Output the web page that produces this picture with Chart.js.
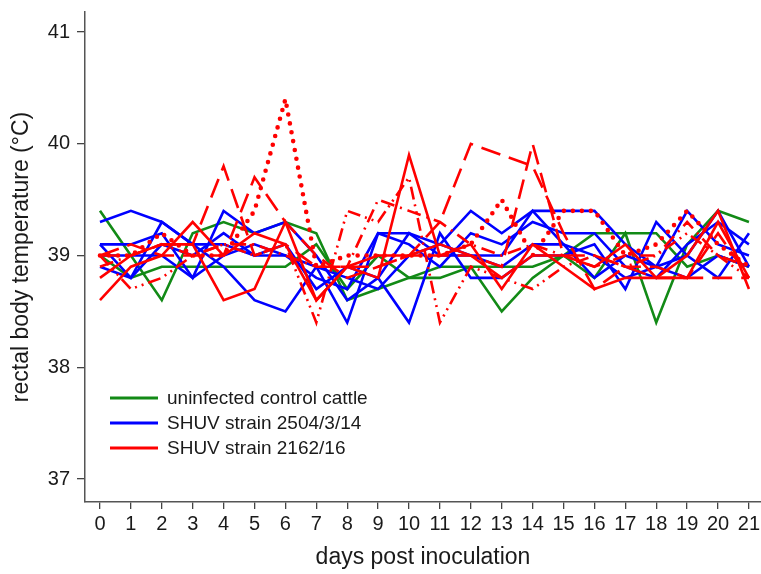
<!DOCTYPE html>
<html>
<head>
<meta charset="utf-8">
<script src="https://cdn.jsdelivr.net/npm/chart.js@4.4.1/dist/chart.umd.min.js"></script>
<style>
  html, body { margin: 0; padding: 0; background: #fff; }
  #wrap { width: 761px; height: 574px; }
</style>
</head>
<body>
<div id="wrap"><canvas id="tempChart"></canvas></div>
<script>
const days = [0, 1, 2, 3, 4, 5, 6, 7, 8, 9, 10, 11, 12, 13, 14, 15, 16, 17, 18, 19, 20, 21];
const yTicks = [37, 38, 39, 40, 41];

// uninfected control cattle
const control1 = [39.4, 39.0, 38.6, 39.2, 39.3, 39.2, 39.3, 39.2, 38.6, 38.7, 38.8, 38.8, 38.9, 38.5, 38.8, 39.0, 38.8, 39.2, 38.4, 39.1, 39.4, 39.3];
const control2 = [39.0, 38.8, 38.9, 38.9, 38.9, 38.9, 38.9, 39.1, 38.7, 39.0, 38.8, 38.9, 38.9, 38.9, 38.9, 39.0, 39.2, 39.2, 39.2, 38.9, 39.0, 38.9];

// SHUV strain 2504/3/14
const s2504a = [39.3, 39.4, 39.3, 39.1, 38.9, 38.6, 38.5, 38.9, 38.4, 39.2, 39.2, 39.1, 39.4, 39.2, 39.4, 39.4, 39.4, 39.1, 38.9, 39.4, 39.1, 39.0];
const s2504b = [39.1, 39.1, 39.2, 38.8, 39.4, 39.2, 39.3, 39.0, 38.6, 38.8, 38.4, 39.2, 38.8, 38.8, 39.0, 39.0, 39.1, 38.7, 39.3, 39.0, 38.8, 39.2];
const s2504c = [38.9, 38.8, 39.1, 39.0, 39.2, 39.0, 39.0, 38.8, 38.7, 39.2, 39.1, 38.9, 39.2, 39.1, 39.3, 39.2, 39.2, 38.9, 38.8, 39.1, 39.3, 39.1];
const s2504d = [39.1, 38.8, 39.3, 39.1, 39.1, 39.0, 39.1, 38.7, 38.9, 38.8, 39.2, 39.0, 39.0, 38.9, 39.1, 39.1, 38.8, 39.0, 38.9, 38.8, 39.0, 38.9];
const s2504e = [39.0, 39.0, 39.0, 38.8, 39.0, 39.1, 39.0, 38.9, 38.8, 38.7, 39.0, 39.1, 39.0, 39.0, 39.4, 39.1, 39.0, 38.8, 38.9, 39.0, 39.4, 38.9];

// SHUV strain 2162/16
const s2162a = [38.6, 38.9, 39.0, 39.3, 39.0, 39.2, 39.1, 38.6, 38.9, 38.8, 39.9, 39.0, 39.1, 38.7, 39.1, 38.9, 38.7, 38.8, 38.8, 39.0, 39.4, 38.7];
const s2162b = [38.8, 39.0, 39.1, 39.1, 38.6, 38.7, 39.3, 38.6, 38.9, 39.0, 39.0, 39.1, 39.0, 38.8, 39.0, 39.0, 38.9, 39.1, 38.8, 38.8, 39.3, 38.8];
const s2162c = [39.0, 39.0, 39.1, 39.1, 39.8, 39.0, 39.1, 38.9, 38.9, 38.9, 39.0, 39.3, 40.0, 39.9, 39.8, 39.2, 38.7, 38.9, 38.8, 38.8, 38.8, 38.8];
const s2162d = [39.0, 39.1, 39.0, 39.0, 39.0, 39.7, 39.3, 39.0, 38.8, 38.9, 39.0, 39.0, 39.0, 38.9, 40.0, 39.0, 39.0, 38.9, 38.9, 38.8, 39.2, 38.8];
const s2162e = [39.0, 39.0, 39.2, 39.0, 39.0, 39.4, 40.4, 38.9, 39.0, 39.0, 39.0, 39.0, 39.1, 39.5, 39.0, 39.4, 39.4, 39.0, 39.1, 39.4, 39.1, 38.9];
const s2162f = [38.9, 39.0, 39.1, 39.0, 39.1, 39.1, 39.0, 38.9, 38.9, 39.5, 39.4, 39.3, 39.1, 39.0, 39.1, 39.0, 38.9, 39.0, 39.0, 39.3, 39.0, 38.9];
const s2162g = [39.0, 38.7, 38.8, 39.0, 39.1, 39.0, 39.1, 38.4, 39.4, 39.3, 39.7, 38.4, 38.9, 38.8, 38.7, 38.9, 39.0, 38.9, 39.0, 39.2, 39.0, 38.8];

const GREEN = '#128a16';
const BLUE = '#0000ff';
const RED = '#ff0000';

function line(data, color, dash, width) {
  return {
    data: data,
    borderColor: color,
    backgroundColor: color,
    borderWidth: width || 2.6,
    borderDash: dash || [],
    borderCapStyle: dash && dash[0] === 0 ? 'round' : 'butt',
    pointRadius: 0,
    tension: 0,
    fill: false
  };
}

// red drawn on top (dataset 0 is painted last)
const datasets = [
  line(s2162a, RED),
  line(s2162b, RED),
  line(s2162c, RED, [20, 9]),
  line(s2162d, RED, [20, 9]),
  line(s2162e, RED, [0, 9], 4.6),
  line(s2162f, RED, [14, 6, 2, 6]),
  line(s2162g, RED, [13, 5, 2, 5, 2, 5]),
  line(s2504a, BLUE),
  line(s2504b, BLUE),
  line(s2504c, BLUE),
  line(s2504d, BLUE),
  line(s2504e, BLUE),
  line(control1, GREEN),
  line(control2, GREEN)
];

const legendItems = [
  { text: 'uninfected control cattle', color: GREEN },
  { text: 'SHUV strain 2504/3/14', color: BLUE },
  { text: 'SHUV strain 2162/16', color: RED }
];

const insideLegend = {
  id: 'insideLegend',
  afterDraw(chart) {
    const c = chart.ctx;
    c.save();
    c.font = '19px "Liberation Sans", Arial, sans-serif';
    c.textBaseline = 'middle';
    legendItems.forEach((it, i) => {
      const y = 398 + i * 25;
      c.strokeStyle = it.color;
      c.lineWidth = 2.8;
      c.beginPath();
      c.moveTo(110, y);
      c.lineTo(158, y);
      c.stroke();
      c.fillStyle = '#1a1a1a';
      c.fillText(it.text, 167, y + 1);
    });
    c.restore();
  }
};

new Chart(document.getElementById('tempChart'), {
  type: 'line',
  data: { labels: days, datasets: datasets },
  plugins: [insideLegend],
  options: {
    responsive: true,
    maintainAspectRatio: false,
    animation: false,
    layout: { padding: { top: 12, right: 0, left: 0, bottom: 0 } },
    plugins: { legend: { display: false }, tooltip: { enabled: false } },
    scales: {
      x: {
        type: 'linear',
        min: -0.485,
        max: 21.39,
        afterBuildTicks: scale => { scale.ticks = days.map(v => ({ value: v })); },
        afterFit: scale => { scale.height = 72; scale.paddingLeft = 0; scale.paddingRight = 0; },
        grid: { drawOnChartArea: false, drawTicks: true, tickLength: 7, color: '#444', lineWidth: 1.3 },
        border: { display: true, color: '#555', width: 1.5 },
        ticks: { autoSkip: false, maxRotation: 0, padding: 3, color: '#1a1a1a', font: { family: '"Liberation Sans", Arial, sans-serif', size: 20 } },
        title: { display: true, text: 'days post inoculation', color: '#1a1a1a', padding: { top: 0, bottom: 3 }, font: { family: '"Liberation Sans", Arial, sans-serif', size: 23 } }
      },
      y: {
        min: 36.794,
        max: 41.18,
        afterBuildTicks: scale => { scale.ticks = yTicks.map(v => ({ value: v })); },
        afterFit: scale => { scale.width = 85; scale.paddingTop = 0; scale.paddingBottom = 0; },
        grid: { drawOnChartArea: false, drawTicks: true, tickLength: 8, color: '#444', lineWidth: 1.3 },
        border: { display: true, color: '#555', width: 1.5 },
        ticks: { padding: 7, color: '#1a1a1a', font: { family: '"Liberation Sans", Arial, sans-serif', size: 20 } },
        title: { display: true, text: 'rectal body temperature (°C)', color: '#1a1a1a', padding: { top: 8, bottom: 0 }, font: { family: '"Liberation Sans", Arial, sans-serif', size: 23 } }
      }
    }
  }
});
</script>
</body>
</html>
